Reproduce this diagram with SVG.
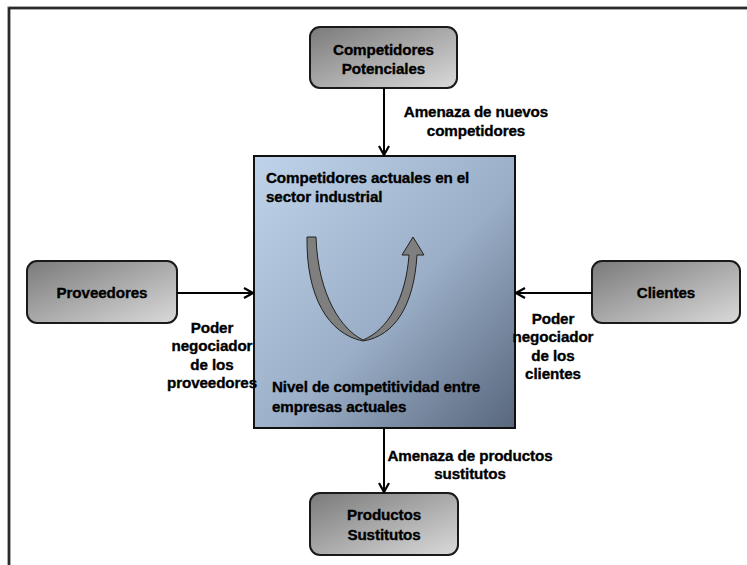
<svg xmlns="http://www.w3.org/2000/svg" width="747" height="565" viewBox="0 0 747 565">
  <defs>
    <linearGradient id="nodeFill" x1="0" y1="0" x2="1" y2="1">
      <stop offset="0" stop-color="#7a7a7a"/>
      <stop offset="1" stop-color="#dadada"/>
    </linearGradient>
    <linearGradient id="coreFill" x1="0" y1="0" x2="1" y2="1">
      <stop offset="0" stop-color="#bfd3ea"/>
      <stop offset="0.55" stop-color="#9aaec7"/>
      <stop offset="1" stop-color="#58677c"/>
    </linearGradient>
    <marker id="arrow" viewBox="0 0 12 12" refX="11" refY="6" markerWidth="12" markerHeight="12" markerUnits="userSpaceOnUse" orient="auto">
      <path d="M2 1 L11 6 L2 11" fill="none" stroke="#000" stroke-width="2.2"/>
    </marker>
  </defs>
  <style>
    .node rect { fill: url(#nodeFill); stroke: #1a1a1a; stroke-width: 2; }
    .label { font-family: "Liberation Sans", Arial, sans-serif; font-weight: bold; font-size: 15.2px; fill: #000; stroke: #000; stroke-width: 0.35; letter-spacing: -0.1px; }
    .mid { text-anchor: middle; }
    .conn line { stroke: #000; stroke-width: 2; marker-end: url(#arrow); }
  </style>

  <!-- outer frame (top and left edges) -->
  <path d="M9 565 L9 8 L747 8" fill="none" stroke="#555" stroke-width="3"/>
  <path d="M9 565 L9 8 L747 8" fill="none" stroke="#000" stroke-width="1"/>

  <!-- central rivalry box -->
  <g id="competidores-actuales">
    <rect x="254" y="156" width="261" height="272" fill="url(#coreFill)" stroke="#111" stroke-width="2"/>
    <text class="label" x="266" y="183">Competidores actuales en el</text>
    <text class="label" x="266" y="202">sector industrial</text>
    <path d="M307 237 L316 237 C318 296 342 330 363 340 C388 330 406 298 409 255 L402 255 L413 237 L424 255 L417 255 C414 305 395 336 363 341 C328 334 306 296 307 237 Z" fill="#7f7f7f" stroke="#222" stroke-width="1"/>
    <text class="label" x="272" y="392">Nivel de competitividad entre</text>
    <text class="label" x="272" y="412">empresas actuales</text>
  </g>

  <g id="competidores-potenciales" class="node">
    <rect x="310" y="27" width="147" height="61" rx="10"/>
    <text class="label mid" x="383.5" y="55">Competidores</text>
    <text class="label mid" x="383.5" y="74">Potenciales</text>
  </g>

  <g id="proveedores" class="node">
    <rect x="27" y="261" width="150" height="62" rx="10"/>
    <text class="label mid" x="102" y="298">Proveedores</text>
  </g>

  <g id="clientes" class="node">
    <rect x="592" y="261" width="148" height="62" rx="10"/>
    <text class="label mid" x="666" y="298">Clientes</text>
  </g>

  <g id="productos-sustitutos" class="node">
    <rect x="310" y="493" width="148" height="62" rx="10"/>
    <text class="label mid" x="384" y="520">Productos</text>
    <text class="label mid" x="384" y="540">Sustitutos</text>
  </g>

  <!-- forces acting on the industry -->
  <g id="connectors" class="conn">
    <line x1="384" y1="88" x2="384" y2="155"/>
    <line x1="177" y1="293" x2="253" y2="293"/>
    <line x1="592" y1="293" x2="516" y2="293"/>
    <line x1="384" y1="429" x2="384" y2="492"/>
  </g>

  <g id="connector-labels">
    <text class="label mid" x="476" y="117">Amenaza de nuevos</text>
    <text class="label mid" x="476" y="136">competidores</text>
    <text class="label mid" x="212" y="333">Poder</text>
    <text class="label mid" x="212" y="351">negociador</text>
    <text class="label mid" x="212" y="370">de los</text>
    <text class="label mid" x="212" y="388">proveedores</text>
    <text class="label mid" x="553" y="324">Poder</text>
    <text class="label mid" x="553" y="342">negociador</text>
    <text class="label mid" x="553" y="361">de los</text>
    <text class="label mid" x="553" y="379">clientes</text>
    <text class="label mid" x="470" y="461">Amenaza de productos</text>
    <text class="label mid" x="470" y="479">sustitutos</text>
  </g>
</svg>
